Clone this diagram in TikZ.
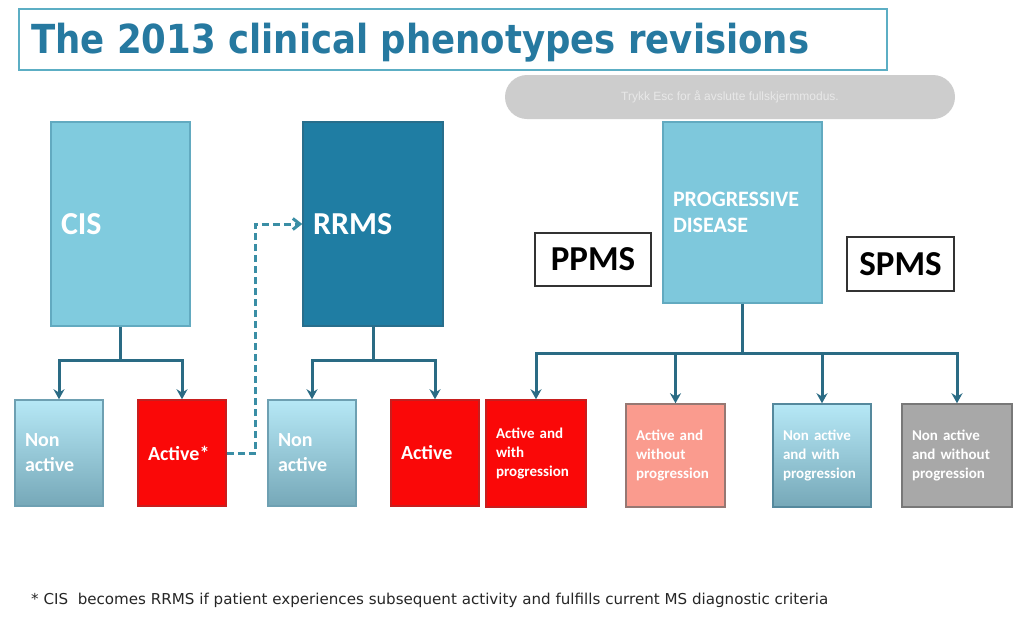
\documentclass[tikz,border=0pt]{standalone}
\usepackage{fontspec}
\usepackage{graphicx}
\setmainfont{Liberation Sans}
\newfontfamily\calfont{Carlito}
\newfontfamily\titlefont{DejaVu Sans}
\usetikzlibrary{arrows.meta}
\definecolor{titlecol}{RGB}{38,121,160}
\definecolor{titleborder}{RGB}{92,174,196}
\definecolor{cisfill}{RGB}{128,203,222}
\definecolor{cisborder}{RGB}{98,170,192}
\definecolor{rrmsfill}{RGB}{31,125,163}
\definecolor{rrmsborder}{RGB}{40,110,140}
\definecolor{pdfill}{RGB}{126,200,220}
\definecolor{natop}{RGB}{182,232,246}
\definecolor{nabot}{RGB}{118,168,184}
\definecolor{naborder}{RGB}{110,160,178}
\definecolor{redfill}{RGB}{250,8,8}
\definecolor{redborder}{RGB}{200,30,30}
\definecolor{salmon}{RGB}{250,155,142}
\definecolor{salmonborder}{RGB}{150,120,115}
\definecolor{greyfill}{RGB}{168,168,168}
\definecolor{greyborder}{RGB}{120,120,120}
\definecolor{conncol}{RGB}{42,107,132}
\definecolor{dashcol}{RGB}{58,142,165}
\definecolor{overlay}{RGB}{205,205,205}
\definecolor{overlaytext}{RGB}{232,232,232}
\tikzset{
  bx/.style={draw, line width=1.5pt, align=left, inner xsep=10pt, inner ysep=0pt,
    font=\calfont\bfseries, text=white},
  lightbx/.style={bx, fill=cisfill, draw=cisborder},
  gradbx/.style={bx, top color=natop, bottom color=nabot, draw=naborder},
  redbx/.style={bx, fill=redfill, draw=redborder},
  labbx/.style={draw=black!80, line width=1.2pt, fill=white, align=center,
    font=\calfont\bfseries\fontsize{35}{40}\selectfont, text=black},
  conn/.style={draw=conncol, line width=3pt, -{Stealth[length=10pt,width=11pt]}},
  dashconn/.style={draw=dashcol, line width=3pt, dash pattern=on 7pt off 4pt,
    -{Straight Barb[length=7pt,width=11pt]}},
  smalltxt/.style={font=\calfont\bfseries\fontsize{15}{19}\selectfont},
  midtxt/.style={font=\calfont\bfseries\fontsize{20}{25}\selectfont},
}
\begin{document}
\begin{tikzpicture}[x=1pt,y=-1pt]
\useasboundingbox[fill=white] (0,0) rectangle (1024,619);

% title
\node[draw=titleborder, line width=1.5pt, minimum width=868, minimum height=61,
  inner sep=0pt] (titlebox) at (453,39.5) {};
\node[anchor=base west, text=titlecol, inner sep=0pt] (title) at (31,53)
  {\resizebox{778pt}{\height}{\titlefont\bfseries\fontsize{40}{44}\selectfont The 2013 clinical phenotypes revisions}};

% overlay
\node[fill=overlay, rounded corners=22pt, minimum width=450, minimum height=44,
  inner sep=0pt, text=overlaytext, font=\fontsize{12}{14}\selectfont] (ovl) at (730,97)
  {Trykk Esc for å avslutte fullskjermmodus.};

% top boxes
\node[lightbx, minimum height=204, text width=119,
  font=\calfont\bfseries\fontsize{32}{36}\selectfont] (cis) at (120.5,224) {CIS};
\node[bx, fill=rrmsfill, draw=rrmsborder, minimum height=204, text width=120,
  font=\calfont\bfseries\fontsize{32}{36}\selectfont] (rrms) at (373,224) {RRMS};
\node[bx, fill=pdfill, draw=cisborder, minimum height=181, text width=139,
  font=\calfont\bfseries\fontsize{22}{26}\selectfont] (pd) at (742.5,212.5) {PROGRESSIVE\\DISEASE};
\node[labbx, minimum width=116, minimum height=53] (ppms) at (593,259.5) {PPMS};
\node[labbx, minimum width=107, minimum height=54] (spms) at (900.5,264) {SPMS};

% bottom boxes (CIS / RRMS)
\node[gradbx, midtxt, minimum height=106, text width=68] (na1) at (59,453) {Non\\active};
\node[redbx, midtxt, minimum height=106, text width=68] (act1) at (182,453) {Active*};
\node[gradbx, midtxt, minimum height=106, text width=68] (na2) at (312,453) {Non\\active};
\node[redbx, midtxt, minimum height=106, text width=68] (act2) at (435,453) {Active};

% bottom boxes (progressive)
\node[redbx, smalltxt, minimum height=107, text width=80] (awp) at (536,453.5)
  {Active and\\with\\progression};
\node[bx, smalltxt, fill=salmon, draw=salmonborder, minimum height=103, text width=79]
  (awop) at (675.5,455.5) {Active and\\without\\progression};
\node[gradbx, smalltxt, draw=conncol!80, minimum height=103, text width=78]
  (nawp) at (822,455.5) {Non active\\and with\\progression};
\node[bx, smalltxt, fill=greyfill, draw=greyborder, minimum height=103, text width=90]
  (nawop) at (957,455.5) {Non active\\and without\\progression};

% connectors
\draw[conn] (cis.south) -- ++(0,34) -| (na1.north);
\draw[conn] (cis.south) -- ++(0,34) -| (act1.north);
\draw[conn] (rrms.south) -- ++(0,34) -| (na2.north);
\draw[conn] (rrms.south) -- ++(0,34) -| (act2.north);
\draw[conn] (pd.south) -- ++(0,50) -| (awp.north);
\draw[conn] (pd.south) -- ++(0,50) -| (awop.north);
\draw[conn] (pd.south) -- ++(0,50) -| (nawp.north);
\draw[conn] (pd.south) -- ++(0,50) -| (nawop.north);
\draw[dashconn] (act1.east) -- ++(29,0) |- (rrms.west);

% footnote
\node[anchor=base west, inner sep=0pt, text=black!85] (foot) at (31,604)
  {\resizebox{797pt}{\height}{\titlefont\fontsize{15}{17}\selectfont * CIS\ \ becomes RRMS if patient experiences subsequent activity and fulfills current MS diagnostic criteria}};
\end{tikzpicture}
\end{document}
